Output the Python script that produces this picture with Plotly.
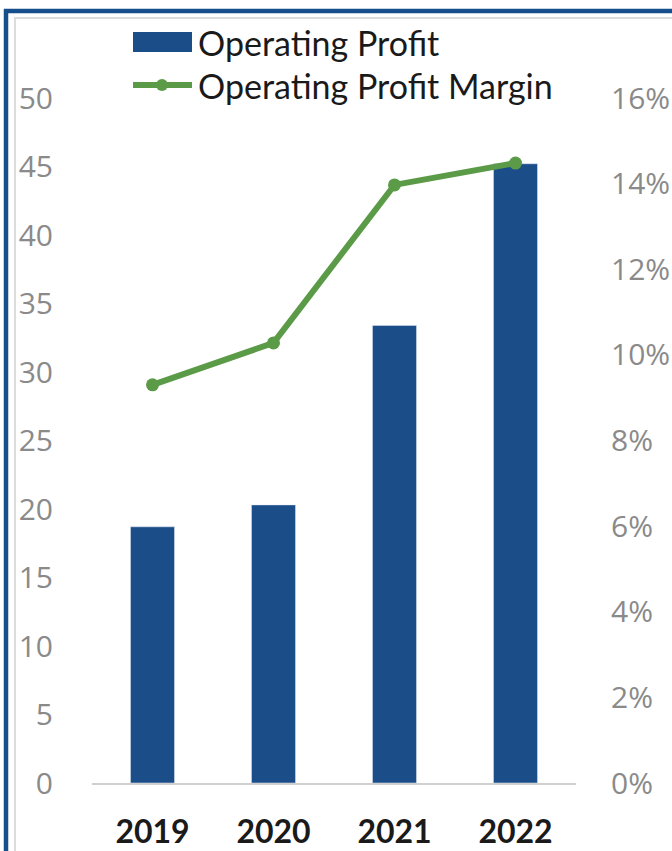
import plotly.graph_objects as go

years = ["2019", "2020", "2021", "2022"]
operating_profit = [18.7, 20.3, 33.4, 45.2]
operating_margin = [0.093, 0.1028, 0.1397, 0.1448]

left_ticks = list(range(0, 55, 5))
right_ticks = [0, 0.02, 0.04, 0.06, 0.08, 0.10, 0.12, 0.14, 0.16]

BAR = "#1B4D89"
GREEN = "#5B9B48"
FRAME = "#174E8C"
TICK = "#8A8A8A"

fig = go.Figure()
fig.add_trace(go.Bar(x=years, y=operating_profit, marker_color=BAR,
                     name="Operating Profit", showlegend=False))
fig.add_trace(go.Scatter(x=years, y=operating_margin, yaxis="y2", mode="lines+markers",
                         line=dict(color=GREEN, width=6), marker=dict(size=13, color=GREEN),
                         name="Operating Profit Margin", showlegend=False))

W, H = 672, 851
L, R, T, B = 92, 96, 98, 68
pw, ph = W - L - R, H - T - B

def px(x):
    return (x - L) / pw

def py(y):
    return (H - B - y) / ph

def hline(x0, x1, y, color, width):
    return dict(type="line", xref="paper", yref="paper", x0=px(x0), x1=px(x1), y0=py(y), y1=py(y),
                line=dict(color=color, width=width), layer="below")

def vline(x, y0, y1, color, width):
    return dict(type="line", xref="paper", yref="paper", x0=px(x), x1=px(x), y0=py(y0), y1=py(y1),
                line=dict(color=color, width=width), layer="below")

shapes = [
    # outer frame (top and left edges, the rest runs off the picture)
    hline(4, W, 11, FRAME, 4.5),
    vline(6, 9, H, FRAME, 4.5),
    hline(14, W, 18, "#DCDCDC", 2),
    vline(15, 17, H, "#DCDCDC", 2),
    # legend symbols
    dict(type="rect", xref="paper", yref="paper", x0=px(133), x1=px(192), y0=py(52), y1=py(32),
         line=dict(width=0), fillcolor=BAR),
    dict(type="line", xref="paper", yref="paper", x0=px(133), x1=px(192), y0=py(85), y1=py(85),
         line=dict(color=GREEN, width=6)),
    dict(type="circle", xref="paper", yref="paper", x0=px(156), x1=px(168), y0=py(91), y1=py(79),
         line=dict(width=0), fillcolor=GREEN),
]

annotations = [
    dict(text="Operating Profit", xref="paper", yref="paper", x=px(196), y=py(42),
         xanchor="left", yanchor="middle", showarrow=False,
         font=dict(family="Lato", size=34, color="#1A1A1A")),
    dict(text="Operating Profit Margin", xref="paper", yref="paper", x=px(196), y=py(85),
         xanchor="left", yanchor="middle", showarrow=False,
         font=dict(family="Lato", size=34, color="#1A1A1A")),
]

fig.update_layout(
    width=W, height=H,
    margin=dict(l=L, r=R, t=T, b=B, autoexpand=False),
    paper_bgcolor="white", plot_bgcolor="white",
    bargap=0.636,
    showlegend=False,
    shapes=shapes,
    annotations=annotations,
    xaxis=dict(showgrid=False, showline=True, linecolor="#D0D0D0", linewidth=1.5,
               ticks="", ticklabelstandoff=20, automargin=False,
               tickfont=dict(family="Lato", size=32, color="#1A1A1A", weight="bold")),
    yaxis=dict(range=[0, 50], tickvals=left_ticks, showgrid=False, zeroline=False,
               ticks="", ticklabelstandoff=38, automargin=False,
               tickfont=dict(family="Open Sans", size=30, color=TICK)),
    yaxis2=dict(range=[0, 0.16], tickvals=right_ticks, tickformat=".0%", overlaying="y",
                side="right", showgrid=False, zeroline=False, ticks="", ticklabelstandoff=34,
                automargin=False,
                tickfont=dict(family="Open Sans", size=30, color=TICK)),
)

post = (
    "[document.documentElement, document.body].forEach(function(e){"
    "e.style.margin='0';e.style.padding='0';e.style.overflow='hidden';});"
)

fig.write_html("out.html", config={"displayModeBar": False}, post_script=post)
